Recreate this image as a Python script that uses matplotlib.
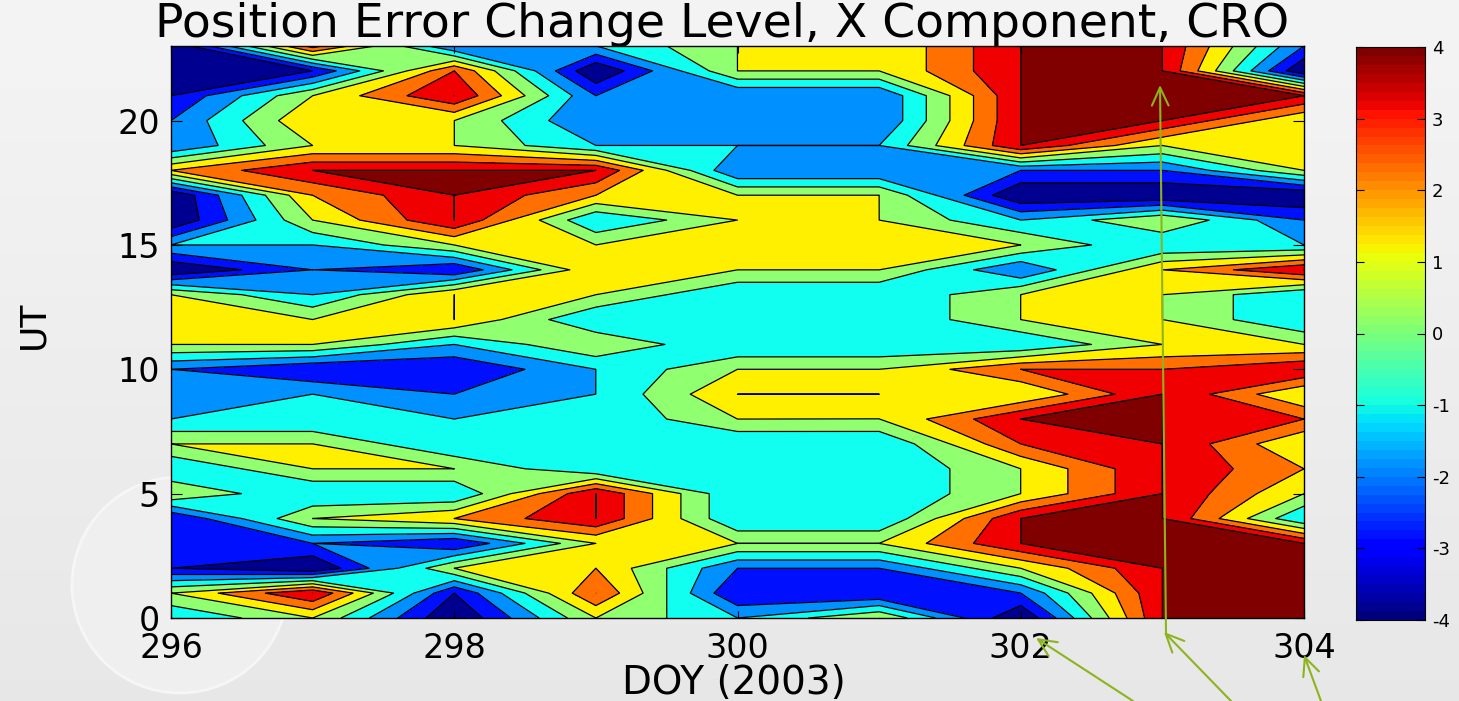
import numpy as np
import matplotlib
matplotlib.use("Agg")
import matplotlib.pyplot as plt
from matplotlib.patches import Circle, FancyArrowPatch

doy = [296, 297, 298, 299, 300, 301, 302, 303, 304]
ut = list(range(24))

col_296 = [-1, 1, -3, -3, -3, 0.99, -1, 1, -1, -2, -2, 1, 1, 1, -4, -1, -4, -4, 2, -2, -2, -3, -4, -4]
col_297 = [1, 4, -4, -2, 1, -1, 1, 1, -1, -1, -3, 1, 1, -1, -2, -1, 1, 2, 4, 1, 1.95, 1, -3, 3.4]
col_298 = [-4, -3, 1, -3, 2, -1, 1, -1, -1, -2, -3, -1, 2, 2, -3, 1, 4, 4, 4, 1, 1, 4, 3, -2]
col_299 = [1, 3, 2, 1, 4, 4, -1, -1, -1, -1, -1, 0.95, -1, 1, 1.9, 1, -1, 2, 4, -1, -2, -2, -4, -1.01]
col_300 = [-1, -3, -2, 1, -1, -1, -1, -1, 1, 2, 1, -1, -1, -1, 1, 1.9, 1, 1, -2, -1, -2, -2, 1, 1]
col_301 = [1, -3, -2, 1, -1, -1, -1, -1, 0.99, 2, 1, -1, -1, -1, 1, 1.9, 1, 1, -2, -1, -2, -2, 1, 1]
col_302 = [-4, -2.01, 1, 4, 4, 1, 1, 3, 4, 1, 3, -1, 1, 1, -2, 1, -1, -4, -2, 4, 4, 4, 4, 4]
col_303 = [4, 4, 4, 5, 4, 4, 4, 4, 4, 4, 3, 1, 1, 1, 1.99, -1, 0.99, -4, -2, 1, 4, 5, 4, 4]
col_304 = [5, 5, 5, 4, -1, 1, 2, 1, 3, 1, 4, 1, -1, -1, 4, -1, -2, -4, 1, 1, 1, 4, -4, -2]

band_colors = ["#000090", "#0010FF", "#0090FF", "#10FFF0", "#90FF70",
               "#FFF000", "#FF7000", "#F00000", "#800000"]
level_values = [-4, -3, -2, -1, 0, 1, 2, 3, 4]
title_text = "Position Error Change Level, X Component, CRO"

W, H = 1459, 701
GREEN = "#8DB31E"
plt.rcParams["font.family"] = ["DejaVu Sans"]
plt.rcParams["axes.unicode_minus"] = False


def fx(p):
    return p / W


def fy(p):
    return 1 - p / H


fig = plt.figure(figsize=(W / 100, H / 100), dpi=100, facecolor="#EEEEEE")

# faint background decoration
bg = fig.add_axes([0, 0, 1, 1], zorder=0)
bg.imshow(np.linspace(0.955, 0.905, 64)[:, None], cmap="gray", vmin=0, vmax=1,
          aspect="auto", extent=[0, W, H, 0])
bg.set_xlim(0, W)
bg.set_ylim(H, 0)
bg.axis("off")
bg.add_patch(Circle((180, 585), 108, fc="#EFEFEF", ec="#F6F6F6", lw=2))

ax = fig.add_axes([fx(171), fy(618), fx(1304 - 171), (618 - 46) / H], zorder=2)
Z = np.array([col_296, col_297, col_298, col_299, col_300, col_301, col_302, col_303, col_304], float).T
eps = 1e-3
lv = np.array(level_values, float) - eps
fill_levels = np.r_[lv, 50]
ax.contourf(doy, ut, Z, levels=fill_levels, colors=band_colors)
ax.contour(doy, ut, Z, levels=lv, colors="k", linewidths=0.9, linestyles="solid")
ax.set_xlim(296, 304)
ax.set_ylim(0, 23)
ax.set_xticks([296, 298, 300, 302, 304])
ax.set_yticks([0, 5, 10, 15, 20])
ax.tick_params(axis="both", direction="in", top=True, right=True, width=0.8, labelsize=24)
ax.tick_params(axis="x", length=5, pad=10)
ax.tick_params(axis="y", length=8, pad=8)
for s in ax.spines.values():
    s.set_linewidth(1.0)

ax.set_xlabel("DOY (2003)", fontsize=28, va="baseline")
ax.xaxis.set_label_coords((734 - 171) / (1304 - 171), (618 - 694) / (618 - 46))
ax.set_ylabel("UT", fontsize=26, va="center")
ax.yaxis.set_label_coords((33 - 171) / (1304 - 171), (618 - 325) / (618 - 46))

fig.text(fx(722), fy(37), title_text, fontsize=34, ha="center", va="baseline")

# colour bar
cax = fig.add_axes([fx(1356), fy(620), (1425 - 1356) / W, (620 - 47) / H], zorder=2)
jet64 = matplotlib.colormaps["jet"].resampled(64)
cax.imshow(np.linspace(4, -4, 64)[:, None], cmap=jet64, vmin=-4, vmax=4, aspect="auto", extent=[0, 1, -4, 4])
cax.set_xticks([])
cax.set_yticks(level_values)
cax.yaxis.tick_right()
cax.tick_params(axis="y", direction="in", left=True, right=True, length=6, width=0.8, labelsize=13, pad=5)

# green annotation arrows, figure pixels
arrows = [((1166, 633), (1160, 85)), ((1133, 701), (1036, 638)),
          ((1231, 701), (1164, 632)), ((1321, 701), (1304, 655))]
for (x0, y0), (x1, y1) in arrows:
    fig.add_artist(FancyArrowPatch(
        (fx(x0), fy(y0)), (fx(x1), fy(y1)), transform=fig.transFigure,
        arrowstyle="->,head_length=13,head_width=6", color=GREEN, lw=1.5, zorder=5, shrinkA=0, shrinkB=0))

fig.savefig("out.png", dpi=100)
